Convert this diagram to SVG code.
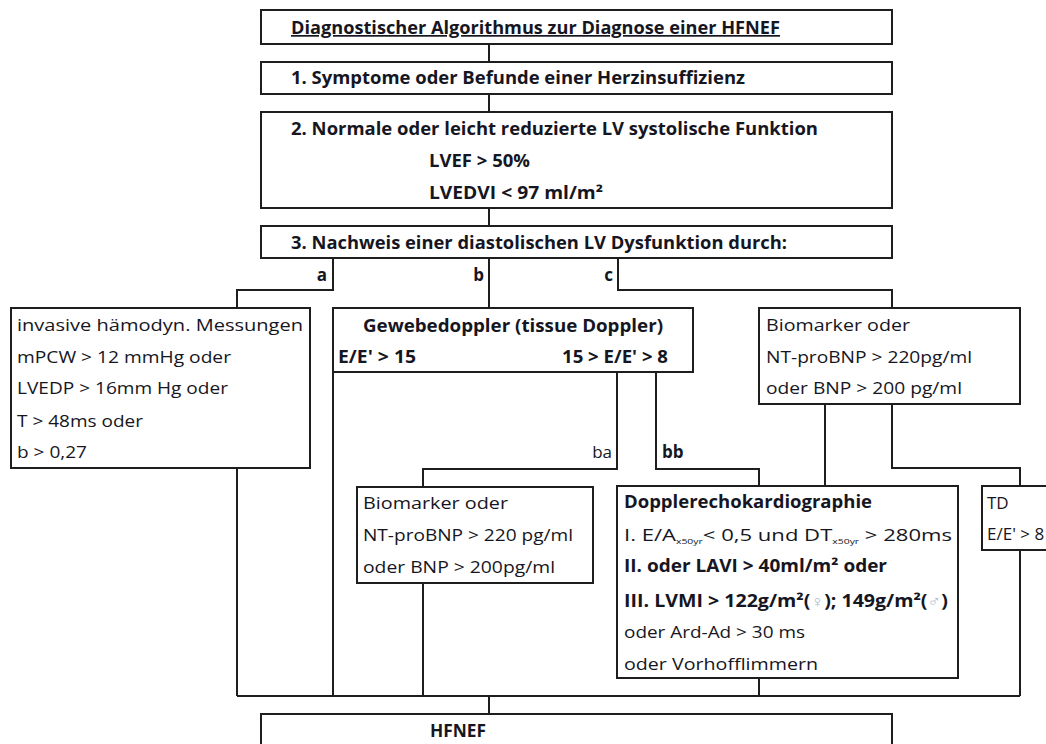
<svg xmlns="http://www.w3.org/2000/svg" width="1046" height="744" viewBox="0 0 1046 744">
<style>
.box{fill:#fff;stroke:#1e1e1e;stroke-width:2}
.c{fill:none;stroke:#1e1e1e;stroke-width:2}
text{font-family:"Open Sans","Liberation Sans",sans-serif;font-size:17px;fill:#161622}
.b{font-weight:bold}
.sub{font-size:8px}
.sym{fill:#a9bcd2;font-weight:normal;font-size:16px}
</style>
<rect width="1046" height="744" fill="#fff"/>
<g id="connectors">
<path class="c" d="M489 44V62 M489 94V112 M489 208V226 M333 258V290H237V308 M489 258V308 M618 258V290H892V308 M333 372V696 M617 372V469H423V487 M656 372V469H759V486 M825 404V486 M892 404V468H1020V486 M237 468V696 M423 583V696 M759 678V696 M1020 550V696 M237 696H1020 M489 696V714"/>
<text class="b" x="327" y="281" text-anchor="end">a</text>
<text class="b" x="484" y="281" text-anchor="end">b</text>
<text class="b" x="613" y="281" text-anchor="end">c</text>
<text x="612" y="458" text-anchor="end">ba</text>
<text class="b" x="662" y="458">bb</text>
</g>
<g id="title">
<rect class="box" x="261" y="10" width="631" height="34"/>
<text class="b" x="291" y="34" textLength="489" lengthAdjust="spacingAndGlyphs" text-decoration="underline">Diagnostischer Algorithmus zur Diagnose einer HFNEF</text>
</g>
<g id="step1">
<rect class="box" x="261" y="62" width="631" height="32"/>
<text class="b" x="291" y="84" textLength="454" lengthAdjust="spacingAndGlyphs">1. Symptome oder Befunde einer Herzinsuffizienz</text>
</g>
<g id="step2">
<rect class="box" x="261" y="112" width="631" height="96"/>
<text class="b" x="291" y="135" textLength="527" lengthAdjust="spacingAndGlyphs">2. Normale oder leicht reduzierte LV systolische Funktion</text>
<text class="b" x="429" y="167" textLength="101" lengthAdjust="spacingAndGlyphs">LVEF &gt; 50%</text>
<text class="b" x="429" y="199" textLength="174" lengthAdjust="spacingAndGlyphs">LVEDVI &lt; 97 ml/m²</text>
</g>
<g id="step3">
<rect class="box" x="261" y="226" width="631" height="32"/>
<text class="b" x="291" y="249" textLength="496" lengthAdjust="spacingAndGlyphs">3. Nachweis einer diastolischen LV Dysfunktion durch:</text>
</g>
<g id="invasive">
<rect class="box" x="11" y="308" width="299" height="160"/>
<text x="17" y="331" textLength="286" lengthAdjust="spacingAndGlyphs">invasive hämodyn. Messungen</text>
<text x="17" y="363" textLength="214" lengthAdjust="spacingAndGlyphs">mPCW &gt; 12 mmHg oder</text>
<text x="17" y="394" textLength="211" lengthAdjust="spacingAndGlyphs">LVEDP &gt; 16mm Hg oder</text>
<text x="17" y="427" textLength="126" lengthAdjust="spacingAndGlyphs">T &gt; 48ms oder</text>
<text x="17" y="458" textLength="70" lengthAdjust="spacingAndGlyphs">b &gt; 0,27</text>
</g>
<g id="gewebedoppler">
<rect class="box" x="333" y="308" width="360" height="64"/>
<text class="b" x="363" y="332" textLength="300" lengthAdjust="spacingAndGlyphs">Gewebedoppler (tissue Doppler)</text>
<text class="b" x="338" y="363" textLength="78" lengthAdjust="spacingAndGlyphs">E/E' &gt; 15</text>
<text class="b" x="562" y="363" textLength="106" lengthAdjust="spacingAndGlyphs">15 &gt; E/E' &gt; 8</text>
</g>
<g id="biomarker-c">
<rect class="box" x="759" y="308" width="261" height="96"/>
<text x="766" y="331" textLength="144" lengthAdjust="spacingAndGlyphs">Biomarker oder</text>
<text x="766" y="363" textLength="206" lengthAdjust="spacingAndGlyphs">NT-proBNP &gt; 220pg/ml</text>
<text x="766" y="394" textLength="196" lengthAdjust="spacingAndGlyphs">oder BNP &gt; 200 pg/ml</text>
</g>
<g id="biomarker-ba">
<rect class="box" x="357" y="487" width="236" height="96"/>
<text x="363" y="509" textLength="145" lengthAdjust="spacingAndGlyphs">Biomarker oder</text>
<text x="363" y="541" textLength="210" lengthAdjust="spacingAndGlyphs">NT-proBNP &gt; 220 pg/ml</text>
<text x="363" y="573" textLength="192" lengthAdjust="spacingAndGlyphs">oder BNP &gt; 200pg/ml</text>
</g>
<g id="dopplerecho">
<rect class="box" x="617" y="486" width="341" height="192"/>
<text class="b" x="624" y="508" textLength="248" lengthAdjust="spacingAndGlyphs">Dopplerechokardiographie</text>
<text x="624" y="541" textLength="328" lengthAdjust="spacingAndGlyphs">I. E/A<tspan class="sub" dy="3">x50yr</tspan><tspan dy="-3">&lt; 0,5 und DT</tspan><tspan class="sub" dy="3">x50yr</tspan><tspan dy="-3"> &gt; 280ms</tspan></text>
<text class="b" x="624" y="572" textLength="263" lengthAdjust="spacingAndGlyphs">II. oder LAVI &gt; 40ml/m² oder</text>
<text class="b" x="624" y="607" textLength="324" lengthAdjust="spacingAndGlyphs">III. LVMI &gt; 122g/m²(<tspan class="sym">♀</tspan>); 149g/m²(<tspan class="sym">♂</tspan>)</text>
<text x="624" y="638" textLength="181" lengthAdjust="spacingAndGlyphs">oder Ard-Ad &gt; 30 ms</text>
<text x="624" y="670" textLength="194" lengthAdjust="spacingAndGlyphs">oder Vorhofflimmern</text>
</g>
<g id="td">
<rect class="box" x="982" y="486" width="100" height="64"/>
<text x="987" y="509">TD</text>
<text x="987" y="540">E/E' &gt; 8</text>
</g>
<g id="hfnef">
<rect class="box" x="261" y="714" width="631" height="60"/>
<text class="b" x="430" y="737" textLength="56" lengthAdjust="spacingAndGlyphs">HFNEF</text>
</g>
</svg>
